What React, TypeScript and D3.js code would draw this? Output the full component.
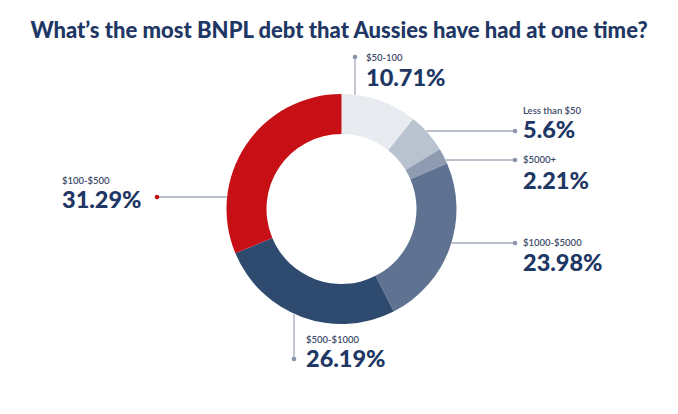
import { useMemo } from "react";
import * as d3 from "d3";

const categories = [
  "$50-100",
  "Less than $50",
  "$5000+",
  "$1000-$5000",
  "$500-$1000",
  "$100-$500",
];
const shares = [10.71, 5.6, 2.21, 23.98, 26.19, 31.29];
const valueLabels = ["10.71%", "5.6%", "2.21%", "23.98%", "26.19%", "31.29%"];

const sliceColors = ["#e8ebef", "#b9c2cf", "#8e9bb0", "#5f7291", "#2f4a6f", "#c71016"];

// leader line + label placement per slice
type Layout = {
  dir: "h" | "v";
  dot: [number, number];
  textX: number;
  labelY: number;
  valueY: number;
  dotColor?: string;
};
const layouts: Layout[] = [
  { dir: "v", dot: [355, 57], textX: 366, labelY: 61, valueY: 86 },
  { dir: "h", dot: [515, 131], textX: 523, labelY: 114, valueY: 138 },
  { dir: "h", dot: [515, 160], textX: 523, labelY: 163, valueY: 189 },
  { dir: "h", dot: [515, 243], textX: 523, labelY: 246, valueY: 271 },
  { dir: "v", dot: [294, 359], textX: 306, labelY: 343, valueY: 367 },
  { dir: "h", dot: [157, 197], textX: 62, labelY: 184, valueY: 208, dotColor: "#c71016" },
];

const width = 678;
const height = 414;
const cx = 341.5;
const cy = 209;
const outerR = 115;
const innerR = 75;

export default function App() {
  const arcs = useMemo(
    () =>
      d3
        .pie<number>()
        .sort(null)
        .value((d) => d)(shares),
    []
  );
  const arc = d3.arc<d3.PieArcDatum<number>>().innerRadius(innerR).outerRadius(outerR);

  return (
    <svg
      width={width}
      height={height}
      style={{ position: "absolute", left: 0, top: 0, background: "#fff" }}
      fontFamily="Lato, 'Open Sans', sans-serif"
    >
      <text
        x={width / 2}
        y={38}
        textAnchor="middle"
        fontSize={22}
        fontWeight={900}
        fill="#1e3764"
      >
        What’s the most BNPL debt that Aussies have had at one time?
      </text>

      <g transform={`translate(${cx},${cy})`}>
        {arcs.map((a, i) => (
          <path key={categories[i]} d={arc(a) ?? ""} fill={sliceColors[i]} />
        ))}
      </g>

      {layouts.map((l, i) => {
        const [dx, dy] = l.dot;
        let x1: number, y1: number;
        if (l.dir === "h") {
          const off = Math.sqrt(outerR * outerR - (dy - cy) ** 2);
          x1 = dx > cx ? cx + off : cx - off;
          y1 = dy;
        } else {
          const off = Math.sqrt(outerR * outerR - (dx - cx) ** 2);
          x1 = dx;
          y1 = dy < cy ? cy - off : cy + off;
        }
        return (
          <g key={categories[i]}>
            <line x1={x1} y1={y1} x2={dx} y2={dy} stroke="#a3abbb" strokeWidth={1.3} />
            <circle cx={dx} cy={dy} r={2.3} fill={l.dotColor ?? "#8a94a8"} />
            <text x={l.textX} y={l.labelY} fontSize={9.5} fontWeight={600} fill="#3b4a68">
              {categories[i]}
            </text>
            <text x={l.textX} y={l.valueY} fontSize={23.5} fontWeight={900} fill="#1e3764">
              {valueLabels[i]}
            </text>
          </g>
        );
      })}
    </svg>
  );
}
